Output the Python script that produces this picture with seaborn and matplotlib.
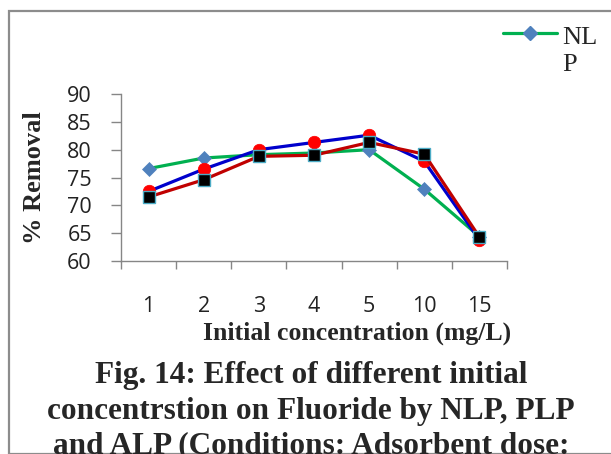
import matplotlib
matplotlib.use("Agg")
import matplotlib.pyplot as plt
import seaborn as sns
import pandas as pd
import numpy as np
from matplotlib.lines import Line2D
from matplotlib.patches import Rectangle

categories = ["1", "2", "3", "4", "5", "10", "15"]
nlp = [76.6, 78.5, 79.1, 79.4, 80.0, 72.9, 64.4]
plp = [72.5, 76.5, 80.0, 81.3, 82.6, 77.9, 63.8]
alp = [71.5, 74.6, 78.8, 79.0, 81.3, 79.2, 64.3]
y_ticks = [60, 65, 70, 75, 80, 85, 90]

sns.set_theme(style="white")
plt.rcParams["font.family"] = ["Open Sans", "DejaVu Sans"]

fig = plt.figure(figsize=(6.11, 4.54), dpi=100)
fig.patch.set_facecolor("white")
# outer chart border
fig.add_artist(Rectangle((8.5 / 611, 0), 1.2, 1 - 11 / 454, transform=fig.transFigure,
                         fill=False, edgecolor="#8c8c8c", linewidth=1.6))

ax = fig.add_axes([121 / 611, 1 - 261 / 454, (507 - 121) / 611, (261 - 94) / 454])
pos = np.arange(len(categories))
df = pd.DataFrame({"x": pos, "NLP": nlp, "PLP": plp, "ALP": alp})

sns.lineplot(data=df, x="x", y="NLP", ax=ax, color="#00B050", linewidth=2.3,
             marker="D", markersize=7.5, markerfacecolor="#4F81BD",
             markeredgecolor="#4F81BD", markeredgewidth=0.5)
sns.lineplot(data=df, x="x", y="PLP", ax=ax, color="#0000CC", linewidth=2.3,
             marker="o", markersize=9, markerfacecolor="#FF0000",
             markeredgecolor="#FF0000", markeredgewidth=0.5)
sns.lineplot(data=df, x="x", y="ALP", ax=ax, color="#C00000", linewidth=2.3,
             marker="s", markersize=9, markerfacecolor="black",
             markeredgecolor="#4BACC6", markeredgewidth=1.0)

ax.set_xlim(-0.5, len(categories) - 0.5)
ax.set_ylim(60, 90)
ax.set_yticks(y_ticks)
ax.set_yticklabels([str(v) for v in y_ticks], fontsize=15.5, color="#222222")
ax.set_xticks(pos)
ax.set_xticklabels(categories, fontsize=15.5, color="#222222")
ax.set_xticks(np.arange(len(categories) + 1) - 0.5, minor=True)
ax.tick_params(axis="x", which="both", bottom=True)
ax.tick_params(axis="y", which="both", left=True)
ax.tick_params(axis="x", which="major", length=0, pad=25)
ax.tick_params(axis="x", which="minor", length=6, width=1, color="#868686", direction="out")
ax.tick_params(axis="y", which="major", length=7, width=1, color="#868686", direction="out", pad=14)
ax.tick_params(axis="y", which="minor", length=0)

for side in ["top", "right"]:
    ax.spines[side].set_visible(False)
for side in ["left", "bottom"]:
    ax.spines[side].set_color("#868686")
    ax.spines[side].set_linewidth(1.0)

ax.set_xlabel("Initial concentration (mg/L)", fontsize=18.5, fontweight="bold",
              family="Liberation Serif", labelpad=0)
ax.xaxis.set_label_coords((357 - 121) / (507 - 121), -0.36)
ax.set_ylabel("% Removal", fontsize=19, fontweight="bold",
              family="Liberation Serif", labelpad=15)

handle = Line2D([], [], color="#00B050", linewidth=2.3, marker="D", markersize=7.5,
                markerfacecolor="#4F81BD", markeredgecolor="#4F81BD")
leg = fig.legend([handle], ["NL\nP"], loc="upper left", bbox_to_anchor=(503 / 611, 1 - 27 / 454),
                 frameon=False, prop={"family": "Liberation Serif", "size": 19},
                 handlelength=2.05, handletextpad=0.2, borderaxespad=0, borderpad=0)
leg.get_texts()[0].set_linespacing(1.28)
lh = leg.legend_handles[0]
lh.set_ydata(np.asarray(lh.get_ydata()) + 12.5)

caption = ["Fig. 14: Effect of different initial",
           "concentrstion on Fluoride by NLP, PLP",
           "and ALP (Conditions: Adsorbent dose:"]
for i, line in enumerate(caption):
    fig.text(311 / 611, 1 - (376 + 35 * i) / 454, line, ha="center", va="center",
             fontsize=22.5, fontweight="bold", family="Liberation Serif")

fig.savefig("out.png", dpi=100, facecolor="white")
